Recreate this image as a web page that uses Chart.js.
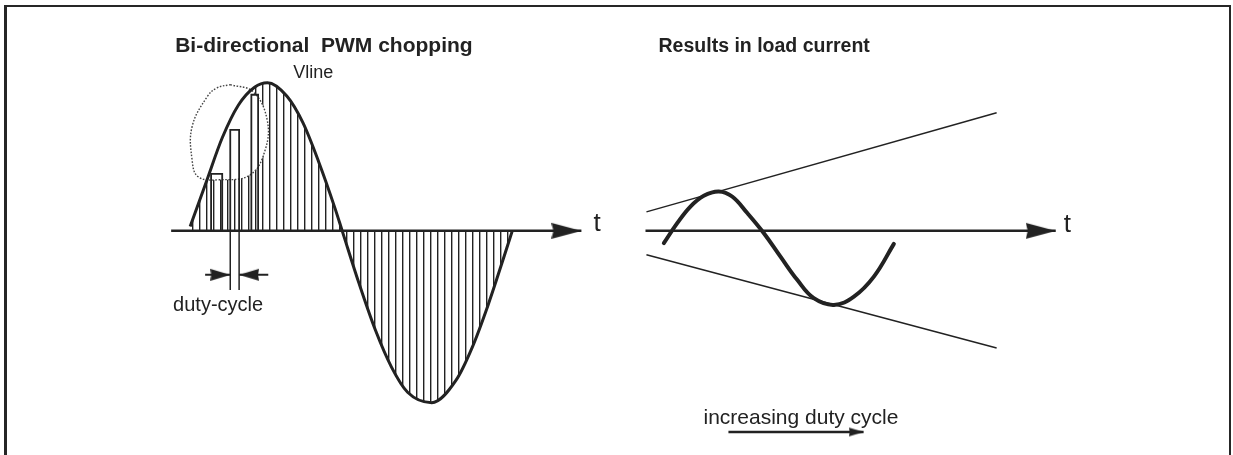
<!DOCTYPE html>
<html>
<head>
<meta charset="utf-8">
<script src="https://cdn.jsdelivr.net/npm/chart.js@4.4.1/dist/chart.umd.min.js"></script>
<style>
  body { margin: 0; background: #fff; }
  #wrap { position: relative; width: 1233px; height: 455px; overflow: hidden; }
  #frame {
    position: absolute; left: 4px; top: 5px; width: 1222px; height: 520px;
    border-top: 2px solid #262626; border-left: 3px solid #262626; border-right: 2px solid #262626;
    pointer-events: none;
  }
</style>
</head>
<body>
<div id="wrap">
  <canvas id="diagram" width="1233" height="455"></canvas>
  <div id="frame"></div>
</div>
<script>
// time in ms (one 20 ms mains period on the left), amplitude relative to Vline peak

// left: chopped line voltage
var sineT = [0, 1, 2, 3, 4, 4.8, 6, 7, 8, 9, 9.44, 10.5, 11.5, 12.5, 13.5, 15, 16.5, 17.5, 18.5, 19.5, 20];
var sineV = [0.03, 0.33, 0.63, 0.85, 0.97, 1.0, 0.91, 0.73, 0.46, 0.15, 0, -0.36, -0.67, -0.92, -1.09, -1.16, -1.01, -0.79, -0.5, -0.17, 0];

// pulses seen through the magnifier
var pulseStart = [1.30, 2.49, 3.80];
var pulseEnd   = [1.99, 3.04, 4.22];
var pulseTop   = [0.385, 0.682, 0.919];

// dotted magnifier outline
var lensT = [2.49, 3.91, 4.78, 4.66, 3.73, 1.86, 0.50, 0.12, 0.12, 1.06, 1.68, 2.49];
var lensV = [0.987, 0.939, 0.750, 0.547, 0.378, 0.345, 0.365, 0.480, 0.703, 0.906, 0.966, 0.987];

// duty-cycle marker
var dutyT = [2.49, 3.04];
var dutyDepth = -0.40;
var dutyArrowV = -0.297;
var dutyArrowTail = [0.93, 4.85];

// axes
var leftAxisT = [-1.18, 24.29];
var rightAxisT = [28.27, 53.74];

// right: resulting load current and its envelope
var loadT = [29.41, 30.24, 31.06, 31.89, 32.82, 33.65, 34.59, 35.62, 36.65, 37.69, 38.72, 39.97, 41.21, 42.45, 43.69];
var loadV = [-0.083, 0.052, 0.164, 0.237, 0.266, 0.232, 0.120, -0.016, -0.174, -0.331, -0.455, -0.500, -0.444, -0.309, -0.088];
var envT = [28.33, 50.07];
var envUpper = [0.128, 0.797];
var envLower = [-0.162, -0.791];

// "increasing duty cycle" arrow
var incT = [33.42, 41.81];
var incV = -1.358;

var ink = '#222';

function pts(xs, ys) {
  return xs.map(function (x, i) { return {x: x, y: Array.isArray(ys) ? ys[i] : ys}; });
}

function stripes() {
  var c = document.createElement('canvas');
  c.width = 7; c.height = 4;
  var g = c.getContext('2d');
  g.fillStyle = ink;
  g.fillRect(3, 0, 1.4, 4);
  return g.createPattern(c, 'repeat');
}

// arrow head with its tip at the centre of the image, pointing right
function head(len, half, notch) {
  var c = document.createElement('canvas');
  c.width = len * 2; c.height = half * 2 + 2;
  var g = c.getContext('2d');
  g.fillStyle = ink;
  g.beginPath();
  g.moveTo(len, half + 1);
  g.lineTo(0, 1);
  g.lineTo(notch, half + 1);
  g.lineTo(0, half * 2 + 1);
  g.closePath();
  g.fill();
  return c;
}

var bigHead = head(30, 8, 2);
var midHead = head(20, 6, 1);
var smallHead = head(15, 4.5, 1);

function line(data, extra) {
  var ds = {
    data: data, showLine: true, pointRadius: 0, borderColor: ink,
    borderWidth: 2, fill: false, order: 1
  };
  for (var k in extra) ds[k] = extra[k];
  return ds;
}

function arrow(t0, t1, v, img, width, order) {
  return line([{x: t0, y: v}, {x: t1, y: v}], {
    borderWidth: width, pointRadius: [0, 5], pointStyle: img,
    pointRotation: t1 > t0 ? 0 : 180, order: order || 1
  });
}

var datasets = [];

// hatching under the line voltage
datasets.push(line(pts(sineT, sineV), {
  borderWidth: 0, fill: 'origin', backgroundColor: stripes(),
  cubicInterpolationMode: 'monotone', order: 9
}));

// magnifier: white inside, dotted rim
datasets.push(line(pts(lensT, lensV), {
  borderWidth: 1.4, borderColor: '#444', borderDash: [1.6, 1.6],
  fill: 'shape', backgroundColor: '#fff', tension: 0.4, order: 8
}));

pulseStart.forEach(function (s, i) {
  datasets.push(line([
    {x: s, y: 0}, {x: s, y: pulseTop[i]}, {x: pulseEnd[i], y: pulseTop[i]}, {x: pulseEnd[i], y: 0}
  ], {borderWidth: 1.8, order: 7}));
});

dutyT.forEach(function (t) {
  datasets.push(line([{x: t, y: 0}, {x: t, y: dutyDepth}], {borderWidth: 1.5, order: 6}));
});
datasets.push(arrow(dutyArrowTail[0], dutyT[0], dutyArrowV, midHead, 2, 6));
datasets.push(arrow(dutyArrowTail[1], dutyT[1], dutyArrowV, midHead, 2, 6));

// line voltage outline
datasets.push(line(pts(sineT, sineV), {
  borderWidth: 3, cubicInterpolationMode: 'monotone', order: 2
}));

// time axes
datasets.push(arrow(leftAxisT[0], leftAxisT[1], 0, bigHead, 2.5, 3));
datasets.push(arrow(rightAxisT[0], rightAxisT[1], 0, bigHead, 2.5, 3));

// envelope and load current
datasets.push(line(pts(envT, envUpper), {borderWidth: 1.5}));
datasets.push(line(pts(envT, envLower), {borderWidth: 1.5}));
datasets.push(line(pts(loadT, loadV), {borderWidth: 4, tension: 0.4, borderCapStyle: 'round'}));

datasets.push(arrow(incT[0], incT[1], incV, smallHead, 2.5));

var textPlugin = {
  id: 'diagramText',
  afterDatasetsDraw: function (chart, args, opts) {
    var ctx = chart.ctx, x = chart.scales.x, y = chart.scales.y;
    ctx.save();
    ctx.fillStyle = opts.color;
    ctx.textBaseline = 'alphabetic';
    opts.items.forEach(function (it) {
      ctx.font = it.font;
      ctx.fillText(it.text, x.getPixelForValue(it.t), y.getPixelForValue(it.v));
    });
    ctx.restore();
  }
};

var fam = '"Liberation Sans", Arial, sans-serif';

new Chart(document.getElementById('diagram'), {
  type: 'scatter',
  data: {datasets: datasets},
  plugins: [textPlugin],
  options: {
    responsive: false,
    animation: false,
    events: [],
    layout: {padding: 0},
    scales: {
      x: {type: 'linear', min: -11.34, max: 64.28, display: false},
      y: {type: 'linear', min: -1.463, max: 1.508, display: false}
    },
    plugins: {
      legend: {display: false},
      tooltip: {enabled: false},
      diagramText: {
        color: ink,
        items: [
          {text: 'Bi-directional  PWM chopping', t: -0.93, v: 1.21, font: 'bold 21px ' + fam},
          {text: 'Results in load current', t: 29.08, v: 1.21, font: 'bold 19.5px ' + fam},
          {text: 'Vline', t: 6.40, v: 1.034, font: '18px ' + fam},
          {text: 'duty-cycle', t: -1.06, v: -0.541, font: '20px ' + fam},
          {text: 't', t: 25.04, v: 0.0, font: '26px ' + fam},
          {text: 't', t: 54.24, v: -0.007, font: '26px ' + fam},
          {text: 'increasing duty cycle', t: 31.87, v: -1.304, font: '21px ' + fam}
        ]
      }
    }
  }
});
</script>
</body>
</html>
